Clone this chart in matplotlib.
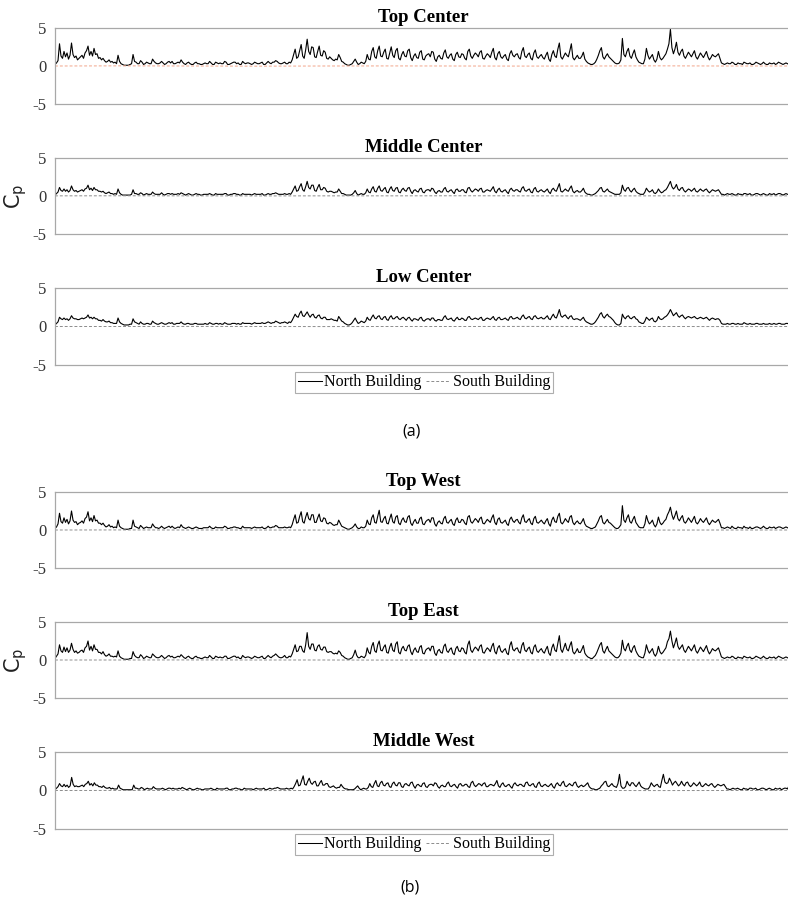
import numpy as np
import matplotlib
matplotlib.use("Agg")
import matplotlib.pyplot as plt
from matplotlib.lines import Line2D

plt.rcParams["font.family"] = ["Liberation Serif", "DejaVu Serif"]
plt.rcParams["mathtext.fontset"] = "dejavusans"

# ---- pressure-coefficient records, North Building ----
north_top_center = [
    0.2,0.4,0.7,2.9,1.3,1.0,1.9,1.2,1.7,0.9,1.4,3.0,1.5,1.1,1.3,0.8,1.0,1.2,1.4,1.0,1.7,2.0,2.6,1.4,1.9,1.3,2.3,1.5,1.6,1.0,1.1,0.8,
    1.0,0.7,0.5,0.6,0.8,0.5,0.6,0.4,0.5,0.3,1.4,0.6,0.3,0.2,0.1,0.1,0.1,0.1,0.2,0.3,
    1.5,0.6,0.5,0.3,0.3,0.7,0.5,0.2,0.3,0.5,0.4,0.3,0.3,0.9,0.6,0.4,0.3,0.3,0.4,0.6,
    0.4,0.2,0.3,0.5,0.6,0.4,0.6,0.3,0.3,0.4,0.5,0.4,0.8,0.5,0.3,0.2,0.4,0.5,0.3,0.2,
    0.2,0.4,0.5,0.3,0.3,0.2,0.2,0.3,0.4,0.3,0.3,0.6,0.4,0.2,0.2,0.5,0.4,0.3,0.4,0.3,
    0.3,0.6,0.5,0.2,0.2,0.3,0.4,0.5,0.5,0.3,0.4,0.2,0.2,0.6,0.4,0.3,0.4,0.4,0.3,0.2,
    0.3,0.5,0.4,0.3,0.3,0.4,0.5,0.2,0.2,0.4,0.6,0.4,0.3,0.5,0.5,0.7,0.6,0.4,0.3,0.3,
    0.4,0.5,0.3,0.3,0.5,0.4,
    0.8,1.5,2.2,1.0,1.2,2.0,2.8,1.3,1.0,2.1,3.5,1.9,1.5,2.5,2.4,1.2,1.1,1.9,2.6,1.4,1.3,2.0,1.8,1.0,0.9,1.2,
    1.0,0.8,0.7,0.9,0.8,1.5,1.1,0.6,0.5,0.3,0.2,0.1,0.1,0.2,0.3,0.6,0.9,0.5,0.2,0.3,0.5,0.4,0.3,0.6,
    1.5,0.9,0.8,1.9,2.4,1.2,1.0,2.0,2.6,1.3,1.2,1.8,2.2,1.0,0.9,1.7,2.5,1.4,1.1,2.0,
    2.3,1.0,0.8,1.5,1.9,1.3,1.2,2.0,2.2,1.1,0.7,1.3,1.6,1.1,1.0,1.8,2.0,0.9,0.8,1.3,
    1.5,1.6,1.2,1.9,1.8,0.9,0.6,1.2,1.4,1.0,0.9,1.7,2.1,1.2,1.0,1.4,1.6,0.9,0.7,1.5,
    1.8,1.2,1.1,1.6,1.5,1.0,0.8,1.9,2.2,1.3,1.0,1.4,1.7,1.5,1.2,1.8,2.0,1.0,0.9,1.3,
    1.6,1.4,1.1,1.8,2.3,1.1,0.8,1.6,1.9,1.2,1.0,1.3,1.5,0.9,0.7,1.6,2.0,1.4,1.2,1.5,
    1.6,1.1,0.9,1.9,2.4,1.3,1.1,1.5,1.7,1.0,0.8,1.7,2.1,1.2,1.0,1.3,1.5,1.1,0.9,1.4,
    1.8,0.9,0.6,1.5,2.0,1.3,1.1,2.2,3.0,1.2,0.9,1.3,1.7,1.4,1.2,2.0,2.9,1.1,0.8,1.1,
    1.4,1.0,
    1.0,1.3,1.8,0.9,0.6,0.4,0.3,0.2,0.2,0.3,0.5,0.9,1.4,2.0,2.4,1.2,0.9,1.3,1.6,1.2,
    1.0,0.8,0.6,0.4,0.3,0.3,0.4,0.8,3.6,1.5,1.2,1.9,2.3,1.3,1.0,1.6,2.1,1.2,0.8,0.5,
    0.4,0.3,0.3,0.9,2.3,1.4,0.9,1.2,1.5,0.8,0.5,0.9,1.9,1.1,0.8,1.0,1.3,1.6,2.2,2.9,
    4.8,2.4,1.6,2.2,3.1,1.8,1.4,1.9,2.2,1.3,1.0,1.4,1.8,1.5,1.2,1.6,2.0,1.2,0.9,1.3,
    1.7,1.4,1.1,1.5,1.9,1.2,0.8,1.1,1.5,1.3,1.2,1.4,1.6,1.0,
    0.4,0.3,0.2,0.3,0.4,0.3,0.3,0.5,0.4,0.2,0.2,0.4,0.3,0.3,0.2,0.5,0.4,0.3,0.3,0.4,
    0.2,0.2,0.3,0.5,0.4,0.3,0.2,0.3,0.5,0.3,0.2,0.2,0.4,0.3,0.3,0.4,0.2,0.3,0.5,0.4,
    0.3,0.2,0.3,0.4,0.3,0.2,0.3,0.4,
]

north_middle_center = [
    0.1,0.3,0.5,1.1,0.7,0.6,0.9,0.6,0.8,0.5,0.7,1.3,0.8,0.6,0.7,0.5,0.6,0.7,0.8,0.6,0.9,1.0,1.4,0.8,1.0,0.7,1.1,0.8,0.8,0.6,0.6,0.5,
    0.6,0.4,0.3,0.4,0.5,0.3,0.3,0.2,0.3,0.2,0.9,0.4,0.2,0.1,0.1,0.1,0.1,0.1,0.1,0.2,
    0.8,0.3,0.3,0.2,0.2,0.4,0.3,0.1,0.2,0.3,0.2,0.2,0.2,0.5,0.3,0.2,0.2,0.2,0.2,0.4,
    0.2,0.1,0.2,0.3,0.3,0.2,0.3,0.2,0.2,0.2,0.3,0.2,0.4,0.3,0.2,0.1,0.2,0.3,0.2,0.1,
    0.1,0.2,0.3,0.2,0.2,0.1,0.1,0.2,0.2,0.2,0.2,0.3,0.2,0.1,0.1,0.3,0.2,0.2,0.2,0.2,
    0.2,0.3,0.3,0.1,0.1,0.2,0.2,0.3,0.3,0.2,0.2,0.1,0.1,0.3,0.2,0.2,0.2,0.2,0.2,0.1,
    0.2,0.3,0.2,0.2,0.2,0.2,0.3,0.1,0.1,0.2,0.3,0.2,0.2,0.3,0.3,0.4,0.3,0.2,0.2,0.2,
    0.2,0.3,0.2,0.2,0.3,0.2,
    0.5,0.9,1.3,0.6,0.7,1.2,1.6,0.8,0.6,1.2,1.9,1.1,0.9,1.4,1.4,0.7,0.6,1.1,1.5,0.8,0.8,1.1,1.0,0.6,0.5,0.6,
    0.6,0.5,0.4,0.5,0.5,0.9,0.6,0.3,0.3,0.2,0.1,0.1,0.1,0.1,0.2,0.4,0.7,0.3,0.1,0.2,0.3,0.2,0.2,0.4,
    0.9,0.5,0.4,0.9,1.2,0.6,0.5,1.0,1.3,0.7,0.6,0.9,1.1,0.5,0.4,0.9,1.2,0.7,0.6,1.0,
    1.1,0.5,0.4,0.8,1.0,0.7,0.6,1.0,1.1,0.6,0.3,0.7,0.8,0.6,0.5,0.9,1.0,0.5,0.4,0.7,
    0.8,0.8,0.6,1.0,0.9,0.5,0.3,0.6,0.7,0.5,0.5,0.9,1.1,0.6,0.5,0.7,0.8,0.5,0.3,0.8,
    0.9,0.6,0.6,0.8,0.8,0.5,0.4,1.0,1.1,0.7,0.5,0.7,0.9,0.8,0.6,0.9,1.0,0.5,0.5,0.7,
    0.8,0.7,0.6,0.9,1.2,0.6,0.4,0.8,1.0,0.6,0.5,0.7,0.8,0.5,0.3,0.8,1.0,0.7,0.6,0.8,
    0.8,0.6,0.5,1.0,1.2,0.7,0.6,0.8,0.9,0.5,0.4,0.9,1.1,0.6,0.5,0.7,0.8,0.6,0.5,0.7,
    0.9,0.5,0.3,0.8,1.0,0.7,0.6,1.1,1.6,0.6,0.5,0.7,0.9,0.7,0.6,1.0,1.3,0.6,0.4,0.6,
    0.7,0.5,
    0.5,0.7,1.0,0.5,0.3,0.2,0.2,0.1,0.1,0.2,0.3,0.5,0.7,1.0,1.1,0.6,0.5,0.7,0.9,0.6,
    0.5,0.4,0.3,0.2,0.2,0.2,0.2,0.4,1.4,0.8,0.6,1.0,1.1,0.7,0.5,0.8,1.0,0.6,0.4,0.3,
    0.2,0.2,0.2,0.5,1.0,0.7,0.5,0.6,0.8,0.4,0.3,0.5,0.9,0.6,0.4,0.5,0.7,0.8,1.1,1.5,
    1.9,1.2,0.9,1.1,1.5,0.9,0.7,1.0,1.1,0.7,0.5,0.7,0.9,0.8,0.6,0.8,1.0,0.6,0.5,0.7,
    0.9,0.7,0.6,0.8,0.9,0.6,0.4,0.6,0.8,0.7,0.6,0.7,0.8,0.5,
    0.2,0.2,0.1,0.2,0.3,0.2,0.2,0.3,0.2,0.1,0.1,0.3,0.2,0.2,0.1,0.3,0.3,0.2,0.2,0.3,
    0.1,0.1,0.2,0.3,0.3,0.2,0.1,0.2,0.3,0.2,0.1,0.1,0.3,0.2,0.2,0.3,0.1,0.2,0.3,0.3,
    0.2,0.1,0.2,0.3,0.2,0.2,0.3,0.4,
]

north_low_center = [
    0.2,0.4,0.6,1.2,1.0,0.9,1.1,0.9,1.0,0.8,1.0,1.4,1.1,1.0,1.0,0.9,0.9,1.0,1.1,1.0,1.1,1.2,1.5,1.1,1.2,1.0,1.2,1.0,1.0,0.8,0.8,0.7,
    0.9,0.7,0.6,0.6,0.7,0.5,0.5,0.4,0.4,0.4,1.1,0.6,0.4,0.3,0.2,0.2,0.2,0.2,0.3,0.3,
    1.0,0.6,0.5,0.4,0.3,0.6,0.4,0.3,0.3,0.4,0.4,0.3,0.3,0.7,0.5,0.4,0.3,0.3,0.4,0.5,
    0.4,0.3,0.3,0.4,0.5,0.4,0.5,0.3,0.3,0.4,0.4,0.4,0.6,0.4,0.3,0.3,0.4,0.4,0.3,0.3,
    0.3,0.4,0.4,0.3,0.3,0.3,0.3,0.3,0.4,0.3,0.3,0.5,0.4,0.3,0.3,0.4,0.4,0.3,0.4,0.3,
    0.3,0.5,0.4,0.3,0.3,0.3,0.4,0.4,0.4,0.3,0.4,0.3,0.3,0.5,0.4,0.4,0.4,0.4,0.4,0.3,
    0.4,0.5,0.4,0.4,0.4,0.4,0.5,0.4,0.4,0.5,0.6,0.5,0.4,0.5,0.5,0.7,0.6,0.5,0.4,0.5,
    0.5,0.6,0.5,0.4,0.6,0.5,
    0.8,1.2,1.6,1.3,1.2,1.7,2.0,1.4,1.3,1.6,1.9,1.5,1.2,1.5,1.6,1.2,1.1,1.4,1.5,1.1,1.0,1.2,1.2,0.9,0.9,0.9,
    1.0,0.9,0.8,0.8,0.7,1.3,1.0,0.7,0.6,0.4,0.3,0.2,0.2,0.3,0.5,0.8,1.1,0.7,0.4,0.5,0.7,0.6,0.5,0.7,
    1.2,0.9,0.8,1.2,1.5,1.1,1.0,1.3,1.4,1.0,0.9,1.2,1.3,0.9,0.8,1.2,1.4,1.0,1.0,1.2,
    1.3,1.0,0.9,1.1,1.2,1.0,0.8,1.1,1.2,0.9,0.7,1.0,1.0,0.9,0.8,1.1,1.2,0.8,0.7,0.9,
    1.0,1.0,0.8,1.1,1.1,0.8,0.7,0.9,0.9,0.8,0.8,1.2,1.4,1.0,0.9,1.0,1.1,0.8,0.7,1.0,
    1.2,0.9,0.9,1.1,1.0,0.8,0.8,1.2,1.3,1.0,0.9,1.0,1.1,1.0,0.9,1.1,1.2,0.8,0.8,1.0,
    1.1,1.0,0.9,1.1,1.3,0.9,0.8,1.1,1.2,0.9,0.9,1.0,1.1,0.9,0.8,1.2,1.3,1.0,1.0,1.1,
    1.2,1.0,0.9,1.3,1.5,1.1,1.0,1.2,1.3,1.0,0.9,1.3,1.4,1.1,1.0,1.1,1.2,1.0,1.0,1.2,
    1.4,1.0,0.9,1.3,1.6,1.2,1.1,1.6,2.2,1.4,1.2,1.4,1.5,1.2,1.0,1.3,1.4,1.0,0.9,1.0,
    1.0,0.9,
    0.8,1.0,1.2,0.8,0.6,0.5,0.4,0.3,0.3,0.4,0.6,0.9,1.2,1.6,1.8,1.3,1.1,1.4,1.6,1.3,
    1.2,1.0,0.8,0.5,0.3,0.2,0.2,0.4,1.6,1.2,1.0,1.3,1.4,1.1,1.0,1.2,1.3,1.0,0.9,0.6,
    0.5,0.4,0.4,0.7,1.2,1.0,0.8,1.0,1.1,0.7,0.6,0.8,1.3,1.0,0.9,1.0,1.2,1.3,1.5,1.8,
    2.2,1.8,1.4,1.6,1.8,1.4,1.2,1.4,1.5,1.2,1.0,1.2,1.3,1.2,1.1,1.2,1.3,1.1,1.0,1.1,
    1.2,1.1,1.0,1.1,1.2,1.0,0.8,1.0,1.1,1.0,0.9,1.0,1.0,0.8,
    0.4,0.3,0.3,0.3,0.4,0.3,0.3,0.4,0.4,0.3,0.3,0.4,0.3,0.3,0.3,0.5,0.4,0.3,0.3,0.4,
    0.3,0.3,0.3,0.4,0.4,0.3,0.3,0.3,0.4,0.3,0.3,0.3,0.4,0.3,0.3,0.4,0.3,0.3,0.4,0.4,
    0.3,0.3,0.3,0.4,0.4,0.3,0.4,0.5,
]

north_top_west = [
    0.2,0.4,0.8,2.2,1.1,0.9,1.6,1.0,1.4,0.8,1.2,2.5,1.3,1.0,1.1,0.7,0.9,1.0,1.2,0.9,1.5,1.7,2.4,1.2,1.6,1.1,1.9,1.2,1.3,0.9,0.9,0.7,
    0.9,0.6,0.4,0.5,0.7,0.4,0.5,0.3,0.4,0.3,1.3,0.5,0.3,0.2,0.1,0.1,0.1,0.1,0.2,0.2,
    1.3,0.5,0.4,0.3,0.2,0.6,0.4,0.2,0.3,0.4,0.3,0.3,0.3,0.8,0.5,0.3,0.3,0.2,0.3,0.5,
    0.3,0.2,0.3,0.4,0.5,0.3,0.5,0.3,0.2,0.3,0.4,0.3,0.7,0.4,0.3,0.2,0.3,0.4,0.3,0.2,
    0.2,0.3,0.4,0.3,0.2,0.2,0.2,0.3,0.3,0.3,0.3,0.5,0.3,0.2,0.2,0.4,0.3,0.3,0.3,0.3,
    0.3,0.5,0.4,0.2,0.2,0.3,0.3,0.4,0.4,0.3,0.3,0.2,0.2,0.5,0.3,0.3,0.3,0.3,0.3,0.2,
    0.3,0.4,0.3,0.3,0.3,0.3,0.4,0.2,0.2,0.3,0.5,0.3,0.3,0.4,0.4,0.6,0.5,0.3,0.3,0.3,
    0.3,0.4,0.3,0.3,0.4,0.3,
    0.7,1.4,2.0,0.9,1.0,1.8,2.4,1.1,0.9,1.7,2.3,1.5,1.3,2.0,2.0,1.0,1.0,1.6,2.1,1.2,1.1,1.6,1.5,0.9,0.8,1.0,
    0.9,0.7,0.6,0.7,0.7,1.3,0.9,0.5,0.4,0.3,0.2,0.1,0.1,0.2,0.3,0.5,0.8,0.4,0.2,0.2,0.4,0.3,0.3,0.5,
    1.3,0.8,0.7,1.6,2.0,1.0,0.9,1.8,2.6,1.1,1.0,1.5,1.8,0.9,0.8,1.5,2.1,1.1,0.9,1.7,
    1.9,0.9,0.7,1.3,1.6,1.1,1.0,1.7,1.9,0.9,0.6,1.1,1.4,0.9,0.9,1.5,1.7,0.8,0.7,1.1,
    1.3,1.4,1.0,1.6,1.6,0.8,0.5,1.0,1.2,0.9,0.8,1.5,1.8,1.0,0.9,1.2,1.4,0.8,0.6,1.3,
    1.6,1.0,1.0,1.4,1.3,0.9,0.7,1.7,1.9,1.1,0.9,1.2,1.5,1.3,1.0,1.5,1.7,0.9,0.8,1.1,
    1.4,1.2,1.0,1.6,2.0,1.0,0.7,1.4,1.6,1.0,0.9,1.1,1.3,0.8,0.6,1.4,1.7,1.2,1.0,1.3,
    1.4,1.0,0.8,1.6,2.0,1.1,1.0,1.3,1.5,0.9,0.7,1.5,1.8,1.0,0.9,1.1,1.3,1.0,0.8,1.2,
    1.5,0.8,0.5,1.3,1.7,1.1,1.0,1.8,2.2,1.0,0.8,1.1,1.5,1.2,1.0,1.7,1.9,1.0,0.7,1.0,
    1.2,0.9,
    0.8,1.1,1.5,0.8,0.5,0.4,0.3,0.2,0.2,0.3,0.4,0.8,1.2,1.7,1.9,1.0,0.8,1.1,1.4,1.0,
    0.9,0.7,0.5,0.3,0.2,0.2,0.4,0.7,3.2,1.3,1.0,1.6,2.0,1.1,0.9,1.4,1.8,1.0,0.7,0.4,
    0.3,0.3,0.3,0.8,1.9,1.2,0.8,1.0,1.3,0.7,0.4,0.8,1.7,1.0,0.7,0.9,1.2,1.4,2.0,2.4,
    3.0,2.0,1.4,1.9,2.5,1.5,1.2,1.6,1.9,1.1,0.9,1.2,1.6,1.3,1.0,1.4,1.8,1.0,0.8,1.1,
    1.5,1.2,1.0,1.3,1.6,1.0,0.7,1.0,1.3,1.1,1.0,1.2,1.4,0.9,
    0.3,0.3,0.2,0.3,0.4,0.3,0.2,0.5,0.3,0.2,0.2,0.4,0.3,0.3,0.2,0.5,0.3,0.3,0.2,0.4,
    0.2,0.2,0.3,0.4,0.4,0.3,0.2,0.3,0.5,0.3,0.2,0.2,0.4,0.3,0.3,0.4,0.2,0.3,0.4,0.4,
    0.3,0.2,0.3,0.4,0.3,0.2,0.3,0.3,
]

north_top_east = [
    0.2,0.5,0.8,2.0,1.2,1.0,1.7,1.1,1.6,1.0,1.3,2.2,1.4,1.0,1.2,0.9,1.0,1.2,1.3,1.0,1.6,1.8,2.5,1.3,1.8,1.2,2.0,1.4,1.4,1.0,1.0,0.8,
    1.1,0.7,0.5,0.6,0.8,0.5,0.5,0.4,0.5,0.4,1.2,0.5,0.3,0.2,0.1,0.1,0.1,0.1,0.2,0.2,
    1.1,0.6,0.4,0.3,0.3,0.7,0.5,0.2,0.3,0.5,0.4,0.3,0.3,0.8,0.6,0.4,0.3,0.3,0.4,0.6,
    0.4,0.2,0.3,0.5,0.6,0.4,0.5,0.3,0.3,0.4,0.5,0.4,0.7,0.5,0.3,0.2,0.4,0.5,0.3,0.2,
    0.2,0.4,0.5,0.3,0.3,0.2,0.2,0.3,0.4,0.3,0.3,0.6,0.4,0.2,0.2,0.5,0.4,0.3,0.4,0.3,
    0.3,0.5,0.5,0.2,0.2,0.3,0.4,0.5,0.5,0.3,0.4,0.2,0.2,0.6,0.4,0.3,0.4,0.4,0.3,0.2,
    0.3,0.5,0.4,0.3,0.3,0.4,0.5,0.2,0.2,0.4,0.6,0.4,0.3,0.5,0.6,0.8,0.6,0.4,0.3,0.3,
    0.4,0.6,0.3,0.3,0.5,0.4,
    0.8,1.4,2.0,1.1,1.2,1.8,1.8,1.2,1.0,2.0,3.6,1.8,1.4,2.1,2.1,1.3,1.2,1.8,2.0,1.4,1.3,1.7,1.7,1.1,1.0,1.1,
    1.1,0.9,0.8,0.9,0.8,1.2,1.0,0.6,0.5,0.3,0.2,0.1,0.1,0.2,0.3,0.7,1.3,0.6,0.3,0.3,0.5,0.4,0.3,0.6,
    1.6,1.0,0.8,1.8,2.3,1.2,1.0,2.0,2.5,1.3,1.2,1.7,2.0,1.0,0.9,1.7,2.2,1.3,1.1,2.1,
    2.4,1.0,0.8,1.5,1.8,1.3,1.2,1.8,2.0,1.1,0.7,1.3,1.6,1.1,1.0,1.7,1.9,0.9,0.8,1.3,
    1.5,1.6,1.2,1.8,1.8,0.9,0.6,1.2,1.4,1.0,0.9,1.8,2.1,1.2,1.0,1.4,1.6,0.9,0.7,1.5,
    1.8,1.2,1.1,1.6,1.5,1.0,0.8,2.0,2.5,1.3,1.0,1.4,1.7,1.5,1.2,1.8,2.0,1.0,0.9,1.3,
    1.6,1.4,1.1,1.8,2.2,1.1,0.8,1.6,1.9,1.2,1.0,1.3,1.5,0.9,0.7,1.9,2.4,1.4,1.2,1.5,
    1.6,1.1,0.9,1.9,2.3,1.3,1.1,1.5,1.7,1.0,0.8,1.7,2.0,1.2,1.0,1.3,1.5,1.1,0.9,1.4,
    1.8,0.9,0.6,1.6,2.1,1.3,1.1,2.2,3.2,1.4,1.0,1.6,2.2,1.4,1.2,1.9,2.4,1.1,0.8,1.1,
    1.5,1.0,
    1.0,1.4,1.9,0.9,0.6,0.4,0.3,0.2,0.2,0.4,0.6,1.0,1.5,2.0,2.3,1.2,0.9,1.4,1.8,1.2,
    1.0,0.8,0.6,0.4,0.3,0.3,0.5,0.9,2.6,1.5,1.2,1.8,2.2,1.3,1.0,1.6,1.9,1.2,0.8,0.5,
    0.4,0.3,0.3,0.9,2.0,1.3,0.9,1.2,1.5,0.8,0.5,0.9,1.8,1.1,0.8,1.0,1.3,1.6,2.4,2.8,
    3.8,2.5,1.6,2.2,2.9,1.8,1.4,1.7,2.0,1.3,1.0,1.4,1.8,1.5,1.2,1.6,2.0,1.2,0.9,1.3,
    1.7,1.4,1.1,1.5,1.9,1.2,0.8,1.1,1.5,1.3,1.2,1.4,1.6,1.0,
    0.4,0.3,0.2,0.3,0.4,0.3,0.3,0.5,0.4,0.2,0.2,0.4,0.3,0.3,0.2,0.5,0.4,0.3,0.3,0.4,
    0.2,0.2,0.3,0.5,0.4,0.3,0.2,0.3,0.5,0.3,0.2,0.2,0.4,0.3,0.3,0.4,0.2,0.3,0.5,0.4,
    0.3,0.2,0.3,0.4,0.3,0.2,0.3,0.4,
]

north_middle_west = [
    0.1,0.3,0.5,0.9,0.6,0.5,0.8,0.5,0.7,0.4,0.6,1.7,0.8,0.5,0.6,0.5,0.5,0.6,0.7,0.5,0.8,0.9,1.2,0.7,0.9,0.6,1.0,0.7,0.7,0.5,0.5,0.4,
    0.6,0.4,0.3,0.3,0.4,0.2,0.3,0.2,0.2,0.2,0.7,0.3,0.2,0.1,0.1,0.1,0.1,0.1,0.1,0.1,
    0.7,0.3,0.3,0.2,0.2,0.4,0.3,0.1,0.2,0.3,0.2,0.2,0.2,0.5,0.3,0.2,0.2,0.2,0.2,0.3,
    0.2,0.1,0.2,0.3,0.3,0.2,0.3,0.2,0.2,0.2,0.3,0.2,0.4,0.3,0.2,0.1,0.2,0.3,0.2,0.1,
    0.1,0.2,0.3,0.2,0.2,0.1,0.1,0.2,0.2,0.2,0.2,0.3,0.2,0.1,0.1,0.3,0.2,0.2,0.2,0.2,
    0.2,0.3,0.3,0.1,0.1,0.2,0.2,0.3,0.3,0.2,0.2,0.1,0.1,0.3,0.2,0.2,0.2,0.2,0.2,0.1,
    0.2,0.3,0.2,0.2,0.2,0.2,0.3,0.1,0.1,0.2,0.3,0.2,0.2,0.3,0.3,0.4,0.3,0.2,0.2,0.2,
    0.2,0.3,0.2,0.2,0.3,0.2,
    0.5,0.9,1.4,0.6,0.7,1.3,1.9,0.8,0.7,1.2,1.6,1.0,0.8,1.1,1.2,0.6,0.6,1.0,1.3,0.7,0.7,0.9,0.9,0.5,0.4,0.5,
    0.6,0.4,0.3,0.4,0.4,0.8,0.5,0.3,0.2,0.2,0.1,0.1,0.1,0.1,0.2,0.4,0.6,0.3,0.1,0.2,0.3,0.2,0.2,0.4,
    0.9,0.5,0.4,0.9,1.3,0.6,0.5,1.0,1.2,0.7,0.6,0.9,1.0,0.5,0.4,0.9,1.1,0.7,0.6,1.0,
    1.0,0.5,0.4,0.8,0.9,0.7,0.6,1.0,1.1,0.6,0.3,0.7,0.8,0.6,0.5,0.9,1.0,0.5,0.4,0.7,
    0.8,0.8,0.6,1.0,0.9,0.5,0.3,0.6,0.7,0.5,0.5,0.9,1.1,0.6,0.5,0.7,0.8,0.5,0.3,0.8,
    0.9,0.6,0.6,0.8,0.8,0.5,0.4,1.0,1.2,0.7,0.5,0.7,0.9,0.8,0.6,0.9,1.0,0.5,0.5,0.7,
    0.8,0.7,0.6,0.9,1.3,0.6,0.4,0.8,1.0,0.6,0.5,0.7,0.8,0.5,0.3,0.8,1.0,0.7,0.6,0.8,
    0.8,0.6,0.5,1.0,1.1,0.7,0.6,0.8,0.9,0.5,0.4,0.9,1.1,0.6,0.5,0.7,0.8,0.6,0.5,0.7,
    0.9,0.5,0.3,0.8,1.0,0.7,0.6,1.0,1.2,0.6,0.5,0.7,0.9,0.7,0.6,1.0,1.1,0.6,0.4,0.6,
    0.7,0.5,
    0.6,0.8,1.0,0.5,0.3,0.2,0.2,0.1,0.1,0.2,0.3,0.6,0.8,1.1,1.2,0.6,0.5,0.7,0.9,0.6,
    0.5,0.4,0.9,2.1,0.6,0.3,0.3,0.5,1.2,0.8,0.6,1.0,1.0,0.7,0.5,0.8,1.1,0.6,0.4,0.3,
    0.2,0.2,0.2,0.5,1.0,0.7,0.5,0.7,0.8,0.5,0.4,1.3,2.1,1.1,0.9,1.0,1.6,1.2,0.7,1.0,
    1.2,0.9,0.6,0.8,1.2,0.8,0.6,1.0,1.1,0.7,0.5,0.7,1.0,0.8,0.6,0.8,1.1,0.6,0.5,0.7,
    0.9,0.7,0.6,0.8,0.9,0.6,0.4,0.6,0.8,0.7,0.6,0.7,0.8,0.5,
    0.2,0.2,0.1,0.2,0.3,0.2,0.2,0.3,0.2,0.1,0.1,0.3,0.2,0.2,0.1,0.3,0.3,0.2,0.2,0.3,
    0.1,0.1,0.2,0.3,0.3,0.2,0.1,0.2,0.3,0.2,0.1,0.1,0.3,0.2,0.2,0.3,0.1,0.2,0.3,0.3,
    0.2,0.6,0.3,0.2,
]

# ---- South Building records (sampled coarsely, they stay near zero) ----
south_top_center = [0.0, 0.02, 0.0, -0.02, 0.0, 0.01, 0.0, -0.01, 0.0, 0.02, 0.0, 0.0]
south_middle_center = [0.0, 0.01, 0.0, -0.01, 0.0, 0.0, 0.01, 0.0, -0.01, 0.0, 0.0, 0.0]
south_low_center = [0.0, 0.0, 0.01, 0.0, -0.01, 0.0, 0.0, 0.01, 0.0, 0.0, -0.01, 0.0]
south_top_west = [0.0, 0.01, 0.0, 0.0, -0.01, 0.0, 0.01, 0.0, 0.0, -0.01, 0.0, 0.0]
south_top_east = [0.0, 0.0, 0.01, 0.0, 0.0, -0.01, 0.0, 0.01, 0.0, 0.0, 0.0, 0.0]
south_middle_west = [0.0, 0.01, 0.0, -0.01, 0.0, 0.0, 0.01, 0.0, 0.0, -0.01, 0.0, 0.0]

panel_titles = ["Top Center", "Middle Center", "Low Center",
                "Top West", "Top East", "Middle West"]
north_series = [north_top_center, north_middle_center, north_low_center,
                north_top_west, north_top_east, north_middle_west]
south_series = [south_top_center, south_middle_center, south_low_center,
                south_top_west, south_top_east, south_middle_west]
south_colors = ["#f2a58a", "#8c8c8c", "#8c8c8c", "#8c8c8c", "#8c8c8c", "#8c8c8c"]
y_ticks = [-5, 0, 5]
y_tick_labels = ["-5", "0", "5"]
legend_labels = ["North Building", "South Building"]

W, H = 788, 909
fig = plt.figure(figsize=(W / 100, H / 100), dpi=100)

# panel boxes in pixel units: (top, bottom)
panel_px = [(27.7, 104.3), (157.7, 234.0), (288.0, 365.0),
            (492.0, 568.0), (622.0, 698.0), (752.0, 829.0)]
left_px, right_px = 55.0, 792.0
spine_color = "#a8a8a8"

for k, (top, bot) in enumerate(panel_px):
    ax = fig.add_axes([left_px / W, 1 - bot / H, (right_px - left_px) / W, (bot - top) / H])
    yn = np.asarray(north_series[k])
    xn = np.arange(len(yn))
    ys = np.asarray(south_series[k])
    xs = np.linspace(0, len(yn) - 1, len(ys))
    ax.plot(xn, yn, color="black", lw=0.8)
    ax.plot(xs, ys, color=south_colors[k], lw=0.7, linestyle=(0, (3, 2)))
    ax.set_xlim(0, len(yn) - 1)
    ax.set_ylim(-5, 5)
    ax.set_yticks(y_ticks)
    ax.set_yticklabels(y_tick_labels)
    ax.set_xticks([])
    ax.tick_params(axis="y", length=0, pad=6, labelsize=12, colors="#333333")
    for side in ["top", "bottom", "left", "right"]:
        ax.spines[side].set_color(spine_color)
        ax.spines[side].set_linewidth(0.9)
    ax.set_title(panel_titles[k], fontsize=13.5, fontweight="bold", pad=4)

# C_p labels beside the middle panel of each group
for k in (1, 4):
    top, bot = panel_px[k]
    fig.text(16 / W, 1 - (top + bot) / 2 / H, r"$\mathrm{C}_\mathrm{p}$",
             rotation=90, ha="center", va="center", fontsize=15, color="#222222")

handles = [Line2D([], [], color="black", lw=0.75),
           Line2D([], [], color="#8c8c8c", lw=0.7, linestyle=(0, (3, 2)))]
for cy in (382.5, 844.5):
    leg = fig.legend(handles, legend_labels, loc="center",
                     bbox_to_anchor=(424 / W, 1 - cy / H), ncol=2, fontsize=11.5,
                     frameon=True, fancybox=False, borderpad=0.15, handlelength=1.5,
                     handletextpad=0.15, columnspacing=0.3, borderaxespad=0)
    leg.get_frame().set_edgecolor("#9a9a9a")
    leg.get_frame().set_linewidth(0.8)

fig.text(412 / W, 1 - 431 / H, "(a)", ha="center", va="center",
         fontsize=11.5, family=["Open Sans", "DejaVu Sans"])
fig.text(410 / W, 1 - 888 / H, "(b)", ha="center", va="center",
         fontsize=11.5, family=["Open Sans", "DejaVu Sans"])

fig.savefig("out.png", dpi=100)
